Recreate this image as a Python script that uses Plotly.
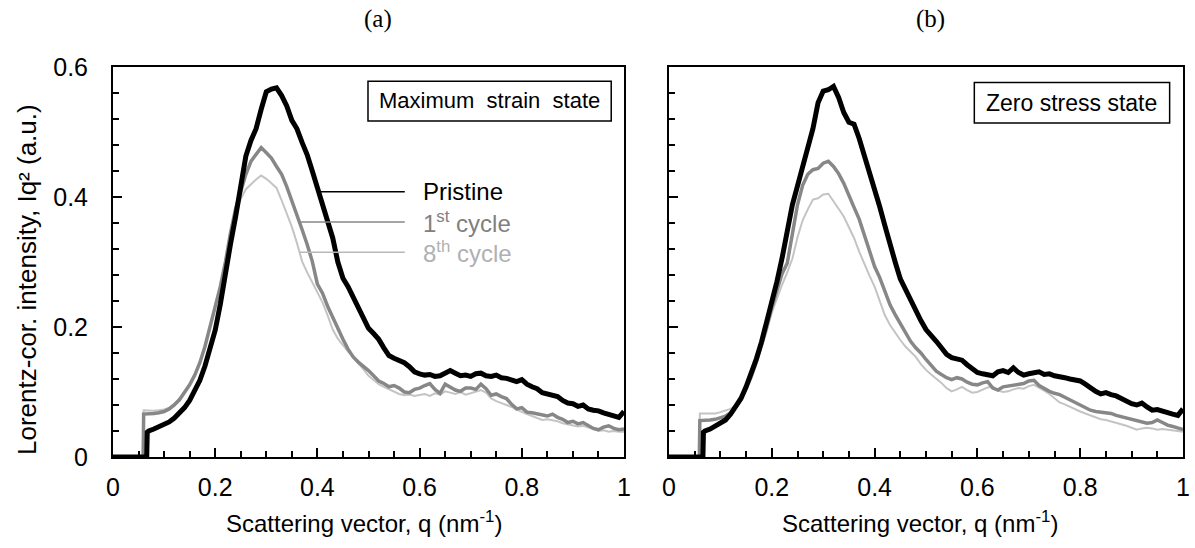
import plotly.graph_objects as go

# ---------------- data ----------------
q = [0.07, 0.08, 0.09, 0.10, 0.11, 0.12, 0.13, 0.14, 0.15, 0.16,
     0.17, 0.18, 0.19, 0.20, 0.21, 0.22, 0.23, 0.24, 0.25, 0.26,
     0.27, 0.28, 0.29, 0.30, 0.31, 0.32, 0.33, 0.34, 0.35, 0.36,
     0.37, 0.38, 0.39, 0.40, 0.41, 0.42, 0.43, 0.44, 0.45, 0.46,
     0.47, 0.48, 0.49, 0.50, 0.51, 0.52, 0.53, 0.54, 0.55, 0.56,
     0.57, 0.58, 0.59, 0.60, 0.61, 0.62, 0.63, 0.64, 0.65, 0.66,
     0.67, 0.68, 0.69, 0.70, 0.71, 0.72, 0.73, 0.74, 0.75, 0.76,
     0.77, 0.78, 0.79, 0.80, 0.81, 0.82, 0.83, 0.84, 0.85, 0.86,
     0.87, 0.88, 0.89, 0.90, 0.91, 0.92, 0.93, 0.94, 0.95, 0.96,
     0.97, 0.98, 0.99, 1.00]

# onset of the signal (beam-stop edge)
q_onset_pristine = [0.0, 0.066, 0.067]
q_onset_cycles = [0.0, 0.059, 0.060]
a_onset_pristine = [0.0, 0.0, 0.038]
a_onset_first = [0.0, 0.0, 0.066]
a_onset_eighth = [0.0, 0.0, 0.072]
b_onset_pristine = [0.0, 0.0, 0.038]
b_onset_first = [0.0, 0.0, 0.056]
b_onset_eighth = [0.0, 0.0, 0.067]

a_pristine = [0.040, 0.043, 0.046, 0.050, 0.054, 0.060, 0.067, 0.076, 0.087, 0.101,
              0.118, 0.140, 0.165, 0.195, 0.235, 0.285, 0.328, 0.370, 0.415, 0.463,
              0.487, 0.505, 0.535, 0.562, 0.566, 0.568, 0.556, 0.540, 0.518, 0.505,
              0.484, 0.465, 0.440, 0.414, 0.393, 0.365, 0.337, 0.300, 0.275, 0.262,
              0.246, 0.228, 0.211, 0.198, 0.190, 0.181, 0.168, 0.156, 0.152, 0.149,
              0.145, 0.139, 0.131, 0.128, 0.126, 0.127, 0.124, 0.125, 0.128, 0.133,
              0.129, 0.125, 0.126, 0.124, 0.128, 0.129, 0.125, 0.124, 0.126, 0.122,
              0.121, 0.118, 0.116, 0.119, 0.112, 0.108, 0.105, 0.099, 0.097, 0.094,
              0.093, 0.087, 0.083, 0.082, 0.078, 0.080, 0.074, 0.072, 0.071, 0.068,
              0.066, 0.063, 0.061, 0.070]
a_first = [0.066, 0.067, 0.068, 0.070, 0.074, 0.080, 0.088, 0.099, 0.111, 0.126,
           0.145, 0.170, 0.200, 0.228, 0.262, 0.300, 0.345, 0.382, 0.410, 0.435,
           0.455, 0.466, 0.476, 0.468, 0.460, 0.447, 0.435, 0.416, 0.395, 0.372,
           0.350, 0.327, 0.301, 0.266, 0.252, 0.232, 0.214, 0.196, 0.181, 0.166,
           0.154, 0.146, 0.140, 0.133, 0.125, 0.117, 0.113, 0.108, 0.110, 0.106,
           0.100, 0.099, 0.104, 0.106, 0.110, 0.113, 0.104, 0.098, 0.112, 0.108,
           0.103, 0.101, 0.106, 0.106, 0.104, 0.112, 0.105, 0.095, 0.097, 0.093,
           0.090, 0.081, 0.074, 0.076, 0.069, 0.068, 0.066, 0.065, 0.063, 0.066,
           0.061, 0.058, 0.053, 0.055, 0.051, 0.053, 0.048, 0.044, 0.042, 0.046,
           0.048, 0.044, 0.042, 0.043]
a_eighth = [0.071, 0.071, 0.072, 0.073, 0.076, 0.082, 0.090, 0.100, 0.112, 0.127,
            0.147, 0.172, 0.202, 0.232, 0.264, 0.298, 0.340, 0.372, 0.397, 0.412,
            0.420, 0.427, 0.433, 0.428, 0.421, 0.414, 0.395, 0.375, 0.354, 0.329,
            0.301, 0.284, 0.268, 0.252, 0.238, 0.218, 0.196, 0.182, 0.172, 0.162,
            0.154, 0.145, 0.135, 0.125, 0.118, 0.112, 0.108, 0.104, 0.100, 0.097,
            0.095, 0.096, 0.094, 0.095, 0.097, 0.094, 0.098, 0.096, 0.101, 0.099,
            0.097, 0.100, 0.096, 0.098, 0.101, 0.103, 0.099, 0.090, 0.086, 0.083,
            0.081, 0.077, 0.073, 0.069, 0.066, 0.063, 0.060, 0.057, 0.058, 0.057,
            0.055, 0.052, 0.050, 0.049, 0.047, 0.048, 0.046, 0.043, 0.040, 0.041,
            0.039, 0.040, 0.039, 0.039]

b_pristine = [0.040, 0.043, 0.047, 0.051, 0.057, 0.066, 0.077, 0.090, 0.108, 0.127,
              0.151, 0.177, 0.206, 0.236, 0.270, 0.306, 0.347, 0.388, 0.417, 0.445,
              0.474, 0.505, 0.545, 0.563, 0.565, 0.570, 0.553, 0.530, 0.515, 0.512,
              0.490, 0.465, 0.435, 0.414, 0.385, 0.356, 0.325, 0.300, 0.274, 0.257,
              0.241, 0.226, 0.210, 0.196, 0.188, 0.178, 0.168, 0.158, 0.153, 0.151,
              0.149, 0.142, 0.136, 0.130, 0.128, 0.126, 0.125, 0.131, 0.133, 0.130,
              0.137, 0.130, 0.126, 0.128, 0.130, 0.131, 0.127, 0.128, 0.125, 0.124,
              0.122, 0.120, 0.119, 0.117, 0.112, 0.106, 0.101, 0.097, 0.099, 0.096,
              0.094, 0.090, 0.085, 0.082, 0.080, 0.083, 0.077, 0.072, 0.073, 0.070,
              0.069, 0.066, 0.064, 0.074]
b_first = [0.056, 0.057, 0.058, 0.060, 0.063, 0.068, 0.077, 0.089, 0.105, 0.124,
           0.147, 0.172, 0.200, 0.230, 0.258, 0.282, 0.298, 0.345, 0.388, 0.418,
           0.435, 0.442, 0.444, 0.452, 0.455, 0.447, 0.436, 0.421, 0.404, 0.384,
           0.366, 0.343, 0.318, 0.293, 0.276, 0.256, 0.234, 0.219, 0.205, 0.190,
           0.178, 0.168, 0.160, 0.150, 0.140, 0.132, 0.127, 0.122, 0.119, 0.122,
           0.120, 0.115, 0.112, 0.111, 0.114, 0.116, 0.106, 0.103, 0.108, 0.109,
           0.110, 0.111, 0.113, 0.117, 0.118, 0.110, 0.105, 0.101, 0.098, 0.096,
           0.092, 0.088, 0.083, 0.079, 0.075, 0.072, 0.070, 0.069, 0.067, 0.067,
           0.064, 0.062, 0.061, 0.058, 0.057, 0.055, 0.052, 0.053, 0.057, 0.053,
           0.049, 0.047, 0.045, 0.042]
b_eighth = [0.067, 0.068, 0.067, 0.069, 0.071, 0.074, 0.080, 0.088, 0.102, 0.120,
            0.142, 0.166, 0.193, 0.222, 0.245, 0.265, 0.284, 0.305, 0.338, 0.364,
            0.381, 0.396, 0.398, 0.404, 0.405, 0.394, 0.382, 0.370, 0.354, 0.337,
            0.316, 0.296, 0.279, 0.262, 0.239, 0.218, 0.203, 0.191, 0.180, 0.170,
            0.162, 0.154, 0.143, 0.134, 0.127, 0.121, 0.114, 0.106, 0.101, 0.104,
            0.108, 0.103, 0.099, 0.100, 0.104, 0.107, 0.108, 0.102, 0.100, 0.101,
            0.104, 0.106, 0.105, 0.109, 0.111, 0.107, 0.102, 0.097, 0.090, 0.084,
            0.081, 0.077, 0.073, 0.070, 0.067, 0.064, 0.061, 0.058, 0.057, 0.055,
            0.053, 0.051, 0.048, 0.045, 0.042, 0.044, 0.045, 0.044, 0.042, 0.043,
            0.042, 0.040, 0.040, 0.039]

series_names = ["Pristine", "1<sup>st</sup> cycle", "8<sup>th</sup> cycle"]
panel_titles = ["(a)", "(b)"]
state_labels = ["Maximum  strain  state", "Zero stress state"]
x_title = "Scattering vector, q (nm<sup>-1</sup>)"
y_title = "Lorentz-cor. intensity, Iq\u00b2 (a.u.)"

# ---------------- styling ----------------
SANS = "Liberation Sans, Arial, sans-serif"
SERIF = "Liberation Serif, Times New Roman, serif"
C_PRI = "#000000"
C_1ST = "#878787"
C_8TH = "#c4c4c4"
W_PRI, W_1ST, W_8TH = 5, 3.5, 2

fig = go.Figure()


def add_panel(xa, ya, pri, first, eighth, on_pri, on_first, on_eighth):
    fig.add_trace(go.Scatter(x=q_onset_cycles + q, y=on_eighth + eighth, mode="lines",
                             line=dict(color=C_8TH, width=W_8TH), xaxis=xa, yaxis=ya,
                             showlegend=False))
    fig.add_trace(go.Scatter(x=q_onset_cycles + q, y=on_first + first, mode="lines",
                             line=dict(color=C_1ST, width=W_1ST), xaxis=xa, yaxis=ya,
                             showlegend=False))
    fig.add_trace(go.Scatter(x=q_onset_pristine + q, y=on_pri + pri, mode="lines",
                             line=dict(color=C_PRI, width=W_PRI), xaxis=xa, yaxis=ya,
                             showlegend=False))


add_panel("x", "y", a_pristine, a_first, a_eighth,
          a_onset_pristine, a_onset_first, a_onset_eighth)
add_panel("x2", "y2", b_pristine, b_first, b_eighth,
          b_onset_pristine, b_onset_first, b_onset_eighth)

W, H = 1195, 548
ytop, ybot = 67, 457
dom_y = [1 - ybot / H, 1 - ytop / H]
dom_xa = [113 / W, 624 / W]
dom_xb = [669 / W, 1183 / W]

xax = dict(range=[0, 1], dtick=0.2, tick0=0, ticks="inside", ticklen=9, tickwidth=2,
           tickcolor="black", showline=True, linecolor="black", linewidth=2, mirror=True,
           showgrid=False, zeroline=False, ticklabelstandoff=7, automargin=False,
           tickfont=dict(family=SANS, size=25, color="black"),
           minor=dict(dtick=0.05, ticks="inside", ticklen=6, tickwidth=2, tickcolor="black",
                      showgrid=False))
yax = dict(range=[0, 0.6], dtick=0.2, tick0=0, ticks="inside", ticklen=9, tickwidth=2,
           tickcolor="black", showline=True, linecolor="black", linewidth=2, mirror=True,
           showgrid=False, zeroline=False, ticklabelstandoff=18, automargin=False,
           tickfont=dict(family=SANS, size=25, color="black"),
           minor=dict(dtick=0.04, ticks="inside", ticklen=6, tickwidth=2, tickcolor="black",
                      showgrid=False))

fig.update_layout(
    width=W, height=H, margin=dict(l=0, r=0, t=0, b=0, autoexpand=False),
    paper_bgcolor="white", plot_bgcolor="white",
    xaxis=dict(xax, domain=dom_xa, anchor="y"),
    yaxis=dict(yax, domain=dom_y, anchor="x"),
    xaxis2=dict(xax, domain=dom_xb, anchor="y2"),
    yaxis2=dict(yax, domain=dom_y, anchor="x2", showticklabels=False),
)

ann = []


def paper_text(text, px, py, size, family, angle=0):
    ann.append(dict(text=text, x=px / W, y=1 - py / H, xref="paper", yref="paper",
                    xanchor="center", yanchor="middle", textangle=angle, showarrow=False,
                    font=dict(family=family, size=size, color="black")))


# panel titles
paper_text(panel_titles[0], 378, 19, 25, SERIF)
paper_text(panel_titles[1], 930, 19, 25, SERIF)
# axis titles
paper_text(x_title, 364, 522, 24, SANS)
paper_text(x_title, 920, 522, 24, SANS)
paper_text(y_title, 27, 280, 26, SANS, angle=-90)

# state label boxes
shapes = []
shapes.append(dict(type="rect", xref="x", yref="y", x0=0.499, x1=0.975, y0=0.517, y1=0.578,
                   line=dict(color="black", width=1.5), fillcolor="white"))
shapes.append(dict(type="rect", xref="x2", yref="y2", x0=0.594, x1=0.974, y0=0.514, y1=0.576,
                   line=dict(color="black", width=1.5), fillcolor="white"))
ann.append(dict(text=state_labels[0], x=0.737, y=0.548, xref="x", yref="y", showarrow=False,
                xanchor="center", yanchor="middle",
                font=dict(family=SANS, size=22, color="black")))
ann.append(dict(text=state_labels[1], x=0.784, y=0.545, xref="x2", yref="y2", showarrow=False,
                xanchor="center", yanchor="middle",
                font=dict(family=SANS, size=23, color="black")))

# in-plot legend (leader lines + labels)
leg = [(series_names[0], C_PRI, "#000000", 0.405, 0.408),
       (series_names[1], C_1ST, "#808080", 0.366, 0.3615),
       (series_names[2], "#b8b8b8", "#b0b0b0", 0.366, 0.315)]
for name, lc, tc, x0, yv in leg:
    shapes.append(dict(type="line", xref="x", yref="y", x0=x0, x1=0.571, y0=yv, y1=yv,
                       line=dict(color=lc, width=1.5)))
    ann.append(dict(text=name, x=0.603, y=yv, xref="x", yref="y", xanchor="left",
                    yanchor="middle", showarrow=False,
                    font=dict(family=SANS, size=24, color=tc)))

fig.update_layout(annotations=ann, shapes=shapes)
fig.write_html("out.html")
